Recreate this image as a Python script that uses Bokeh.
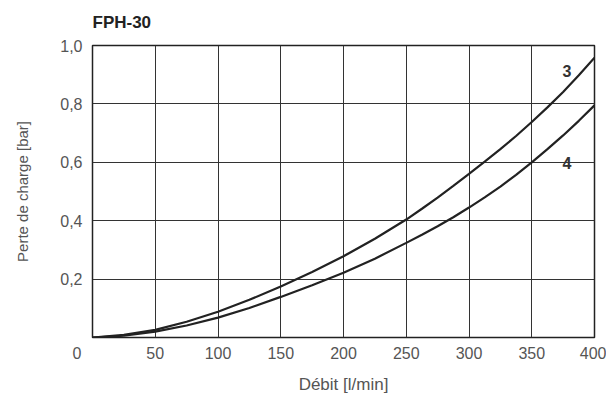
from bokeh.plotting import figure
from bokeh.models import FixedTicker, Range1d, Label
from bokeh.embed import file_html
from bokeh.resources import INLINE

flow = [0, 25, 50, 75, 100, 125, 150, 175, 200, 225, 250, 262.5, 275, 287.5, 300,
        312.5, 325, 337.5, 350, 362.5, 375, 387.5, 400]
curve3 = [0, 0.009, 0.026, 0.054, 0.088, 0.129, 0.175, 0.224, 0.278, 0.338, 0.404,
          0.441, 0.479, 0.519, 0.56, 0.602, 0.645, 0.69, 0.738, 0.788, 0.841, 0.898, 0.958]
curve4 = [0, 0.006, 0.02, 0.041, 0.068, 0.101, 0.139, 0.179, 0.222, 0.27, 0.324,
          0.352, 0.381, 0.412, 0.445, 0.48, 0.517, 0.557, 0.6, 0.645, 0.692, 0.742, 0.795]
x_ticks = [0, 50, 100, 150, 200, 250, 300, 350, 400]
x_tick_labels = ["0\u00a0\u00a0\u00a0\u00a0\u00a0\u00a0\u00a0", "50", "100", "150", "200",
                 "250", "300", "350", "400"]
y_ticks = [0.2, 0.4, 0.6, 0.8, 1.0]
y_tick_labels = ["0,2", "0,4", "0,6", "0,8", "1,0"]
title = "FPH-30"
x_title = "Débit [l/min]"
y_title = "Perte de charge [bar]"
labels = [("3", 378, 0.912), ("4", 378, 0.598)]

FONT = "Liberation Sans"
GREY = "#555555"

p = figure(width=606, height=396, output_backend="svg", toolbar_location=None,
           x_range=Range1d(0, 400), y_range=Range1d(0, 1.0),
           min_border_left=92, min_border_right=12, min_border_top=45,
           min_border_bottom=59)

p.title.text = title
p.title.text_font = FONT
p.title.text_font_style = "bold"
p.title.text_font_size = "17px"
p.title.text_color = "#222222"
p.title.align = "left"
p.title.vertical_align = "top"
p.title.standoff = 23

p.outline_line_color = "#222222"
p.outline_line_width = 1.5

for ax in (p.xaxis[0], p.yaxis[0]):
    ax.axis_line_color = None
    ax.major_tick_line_color = None
    ax.minor_tick_line_color = None
    ax.major_tick_out = 0
    ax.major_tick_in = 0
    ax.minor_tick_out = 0
    ax.minor_tick_in = 0
    ax.major_label_text_font = FONT
    ax.major_label_text_font_size = "16px"
    ax.major_label_text_color = GREY
    ax.axis_label_text_font = FONT
    ax.axis_label_text_font_style = "normal"
    ax.axis_label_text_color = GREY

p.xaxis.axis_label_text_font_size = "17px"
p.yaxis.axis_label_text_font_size = "15px"
p.xaxis.axis_label_text_line_height = 1.0
p.xaxis.major_label_text_line_height = 1.0
p.xaxis.ticker = FixedTicker(ticks=x_ticks)
p.yaxis.ticker = FixedTicker(ticks=y_ticks)
p.yaxis.major_label_overrides = {t: l for t, l in zip(y_ticks, y_tick_labels)}
p.xaxis.major_label_overrides = {t: l for t, l in zip(x_ticks, x_tick_labels)}
p.xaxis.major_label_standoff = 7
p.yaxis.major_label_standoff = 10
p.xaxis.axis_label = x_title
p.yaxis.axis_label = y_title
p.xaxis.axis_label_standoff = 10
p.yaxis.axis_label_standoff = 26

p.xgrid.ticker = FixedTicker(ticks=x_ticks[1:-1])
p.ygrid.ticker = FixedTicker(ticks=y_ticks[:-1])
p.xgrid.grid_line_color = "#333333"
p.ygrid.grid_line_color = "#333333"
p.xgrid.grid_line_width = 1
p.ygrid.grid_line_width = 1

p.line(flow, curve3, line_color="#222222", line_width=2.2)
p.line(flow, curve4, line_color="#222222", line_width=2.2)

for txt, lx, ly in labels:
    p.add_layout(Label(x=lx, y=ly, text=txt, text_font=FONT, text_font_style="bold",
                       text_font_size="16px", text_color="#333333",
                       text_align="center", text_baseline="middle"))

open("out.html", "w").write(file_html(p, INLINE))
